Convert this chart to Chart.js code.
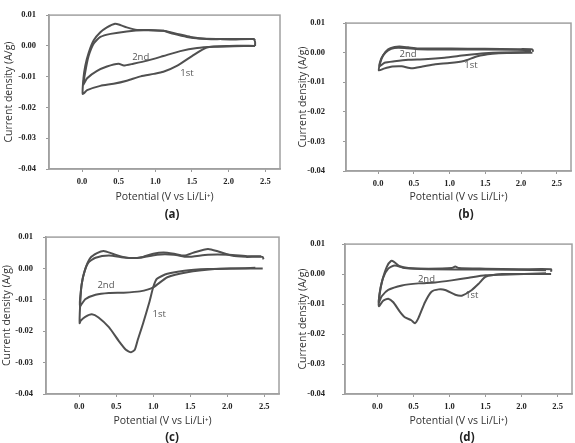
<!DOCTYPE html>
<html>
<head>
<meta charset="utf-8">
<script src="https://cdn.jsdelivr.net/npm/chart.js@4.4.1/dist/chart.umd.min.js"></script>
<style>
  body { margin: 0; background: #fff; width: 575px; height: 443px; position: relative; overflow: hidden; }
  .panel { position: absolute; }
  .tag { position: absolute; font: bold 11.5px "Open Sans", sans-serif; color: #222; transform: translate(-50%, -50%); }
</style>
</head>
<body>
<div class="panel" style="left:0;top:0;width:287px;height:222px"><canvas id="pa"></canvas></div>
<div class="panel" style="left:290px;top:0;width:285px;height:222px"><canvas id="pb"></canvas></div>
<div class="panel" style="left:0;top:222px;width:287px;height:221px"><canvas id="pc"></canvas></div>
<div class="panel" style="left:290px;top:222px;width:285px;height:221px"><canvas id="pd"></canvas></div>
<div class="tag" style="left:172px;top:213px">(a)</div>
<div class="tag" style="left:466px;top:213px">(b)</div>
<div class="tag" style="left:172px;top:436px">(c)</div>
<div class="tag" style="left:467px;top:436px">(d)</div>
<script>
// axis ticks
const X_TICKS = [0, 0.5, 1.0, 1.5, 2.0, 2.5];
const Y_TICKS = [-0.04, -0.03, -0.02, -0.01, 0, 0.01];
const CYCLE_NAMES = ["1st", "2nd"];

// (a) potential (V) / current density (A/g)
const a1V = [2.36, 2.0, 1.7, 1.5, 1.3, 1.11, 0.98, 0.8, 0.61, 0.43, 0.25, 0.07, 0.01,
  0.02, 0.045, 0.09, 0.16, 0.25, 0.34, 0.45, 0.52, 0.61, 0.75, 0.98, 1.11, 1.25, 1.43, 1.61, 1.89, 2.07, 2.34, 2.36, 2.36];
const a1I = [0.0, 0.0, -0.0005, -0.0033, -0.0064, -0.0084, -0.0091, -0.0099, -0.0113, -0.0123, -0.013, -0.0144, -0.0156,
  -0.0105, -0.0064, -0.0023, 0.0018, 0.0044, 0.006, 0.0072, 0.0068, 0.006, 0.0052, 0.0051, 0.0049, 0.0039, 0.0029, 0.0024, 0.0022, 0.0021, 0.0022, 0.0013, 0.0];
const a2V = [2.34, 2.07, 1.8, 1.57, 1.34, 1.11, 0.89, 0.7, 0.57, 0.5, 0.34, 0.2, 0.07, 0.02,
  0.045, 0.09, 0.16, 0.25, 0.39, 0.61, 0.84, 1.11, 1.3, 1.48, 1.7, 1.89, 2.34, 2.36];
const a2I = [0.0, -0.0001, -0.0003, -0.0007, -0.0017, -0.0033, -0.0048, -0.0058, -0.0064, -0.0058, -0.0067, -0.0082, -0.0105, -0.0125,
  -0.0084, -0.0033, 0.0008, 0.0029, 0.0039, 0.0047, 0.0051, 0.0049, 0.0039, 0.0029, 0.0022, 0.0022, 0.0022, 0.0018];
const aLabelV = [1.43, 0.8];
const aLabelI = [-0.0089, -0.0038];

// (b)
const b1V = [2.16, 1.8, 1.6, 1.39, 1.2, 1.0, 0.8, 0.62, 0.47, 0.33, 0.2, 0.08, 0.01,
  0.03, 0.07, 0.14, 0.23, 0.3, 0.42, 0.56, 1.02, 1.49, 1.95, 2.16, 2.17];
const b1I = [0.0, -0.0001, -0.0004, -0.0012, -0.0028, -0.0035, -0.0039, -0.0047, -0.0053, -0.0046, -0.0047, -0.0054, -0.006,
  -0.0034, -0.0009, 0.0011, 0.0019, 0.0021, 0.0018, 0.0014, 0.0014, 0.0013, 0.0012, 0.0011, 0.0003];
const b2V = [2.14, 1.72, 1.49, 1.21, 0.93, 0.65, 0.42, 0.23, 0.09, 0.02,
  0.03, 0.07, 0.14, 0.23, 0.37, 0.56, 1.02, 1.95, 2.14];
const b2I = [0.0002, 0.0001, -0.0002, -0.0009, -0.0017, -0.0022, -0.0024, -0.0029, -0.0034, -0.0046,
  -0.0029, -0.0009, 0.0008, 0.0016, 0.0016, 0.0012, 0.0011, 0.001, 0.0008];
const bLabelV = [1.3, 0.42];
const bLabelI = [-0.0044, -0.0006];

// (c)
const c1V = [2.48, 2.11, 1.74, 1.42, 1.19, 1.05, 1.0, 0.95, 0.86, 0.79, 0.75, 0.7, 0.63, 0.54, 0.4, 0.26, 0.17, 0.08, 0.02, 0.005,
  0.01, 0.03, 0.08, 0.15, 0.24, 0.33, 0.45, 0.59, 0.72, 0.86, 1.0, 1.14, 1.28, 1.42, 1.55, 1.74, 1.88, 2.06, 2.25, 2.48, 2.49];
const c1I = [0.0, 0.0, -0.0002, -0.0007, -0.0017, -0.0033, -0.0059, -0.0105, -0.0177, -0.0228, -0.0259, -0.0267, -0.0259, -0.0233, -0.0187, -0.0156, -0.0146, -0.0154, -0.0166, -0.0174,
  -0.0125, -0.0053, -0.0002, 0.0034, 0.0049, 0.0056, 0.0047, 0.0037, 0.0033, 0.0037, 0.0047, 0.0051, 0.0047, 0.0041, 0.0051, 0.0062, 0.0054, 0.0041, 0.0037, 0.0037, 0.0029];
const c2V = [2.38, 2.11, 1.83, 1.46, 1.19, 1.0, 0.82, 0.6, 0.4, 0.22, 0.08, 0.01,
  0.02, 0.055, 0.12, 0.22, 0.4, 0.63, 0.82, 1.05, 1.28, 1.46, 1.74, 2.02, 2.29, 2.46];
const c2I = [0.0002, 0.0, -0.0002, -0.0012, -0.0028, -0.006, -0.0073, -0.0077, -0.0078, -0.0084, -0.0098, -0.012,
  -0.0074, -0.0023, 0.0018, 0.0034, 0.0041, 0.0034, 0.0034, 0.0044, 0.0044, 0.0037, 0.0044, 0.0044, 0.0039, 0.0039];
const cLabelV = [1.08, 0.36];
const cLabelI = [-0.0146, -0.0053];

// (d)
const d1V = [2.41, 1.96, 1.73, 1.5, 1.41, 1.31, 1.17, 1.08, 0.94, 0.85, 0.75, 0.66, 0.57, 0.52, 0.47, 0.38, 0.31, 0.22, 0.15, 0.08, 0.02,
  0.03, 0.065, 0.13, 0.19, 0.23, 0.31, 0.43, 0.71, 1.03, 1.08, 1.13, 1.5, 1.96, 2.41, 2.41];
const d1I = [0.0, 0.0, 0.0, -0.0009, -0.0031, -0.0053, -0.0072, -0.0069, -0.0053, -0.0051, -0.0059, -0.0094, -0.0146, -0.0164, -0.0154, -0.0144, -0.0125, -0.0094, -0.0082, -0.0089, -0.0107,
  -0.0064, -0.0023, 0.0024, 0.0044, 0.0041, 0.0026, 0.002, 0.0018, 0.002, 0.0025, 0.002, 0.0018, 0.0016, 0.0016, 0.0008];
const d2V = [2.34, 1.73, 1.5, 1.27, 1.03, 0.8, 0.57, 0.34, 0.15, 0.06, 0.02,
  0.04, 0.08, 0.15, 0.24, 0.38, 0.71, 1.5, 2.34];
const d2I = [0.0003, -0.0002, -0.0004, -0.0012, -0.0021, -0.0028, -0.0031, -0.0038, -0.0053, -0.0074, -0.0094,
  -0.0053, -0.0012, 0.0018, 0.0029, 0.002, 0.0016, 0.0015, 0.0013];
const dLabelV = [1.31, 0.68];
const dLabelI = [-0.0072, -0.0017];

const toPoints = (vs, is) => vs.map((v, k) => ({ x: v, y: is[k] }));

// frame around the plot area, like the spreadsheet original
const plotFrame = {
  id: "plotFrame",
  beforeDatasetsDraw(chart) {
    const { ctx, chartArea: a } = chart;
    ctx.save();
    ctx.strokeStyle = "#a0a0a0";
    ctx.lineWidth = 1.5;
    ctx.strokeRect(a.left, a.top, a.right - a.left, a.bottom - a.top);
    ctx.restore();
  },
};

// "1st" / "2nd" annotations placed in data units
const cycleLabels = {
  id: "cycleLabels",
  afterDatasetsDraw(chart, args, opts) {
    const { ctx, scales: { x, y } } = chart;
    ctx.save();
    ctx.font = '9.5px "Open Sans", sans-serif';
    ctx.fillStyle = "#555";
    ctx.textAlign = "center";
    ctx.textBaseline = "middle";
    opts.v.forEach((v, k) => ctx.fillText(CYCLE_NAMES[k], x.getPixelForValue(v), y.getPixelForValue(opts.i[k])));
    ctx.restore();
  },
};

const tickFont = { family: "'Liberation Serif', serif", size: 8.5, weight: "bold" };
const titleFont = { family: "'Open Sans', sans-serif", size: 10.5 };

function makePanel(id, c1, c2, labV, labI, box) {
  const line = (data) => ({
    data,
    showLine: true,
    borderColor: "#505050",
    borderWidth: 2,
    pointRadius: 0,
    tension: 0.2,
  });

  new Chart(document.getElementById(id), {
    type: "scatter",
    data: { datasets: [line(c1), line(c2)] },
    options: {
      responsive: true,
      maintainAspectRatio: false,
      animation: false,
      layout: { padding: { top: box.padT, right: box.padR, bottom: box.padB, left: 0 } },
      scales: {
        x: {
          type: "linear",
          min: -0.45,
          max: 2.7,
          afterBuildTicks: (s) => { s.ticks = X_TICKS.map((v) => ({ value: v })); },
          afterFit: (s) => { s.height = box.xh; },
          ticks: { callback: (v) => Number(v).toFixed(1), font: tickFont, color: "#222", padding: 5, maxRotation: 0 },
          grid: { drawOnChartArea: false, tickLength: 3, color: "#999" },
          border: { color: "#a0a0a0", width: 1.5 },
          title: { display: true, text: "Potential (V vs Li/Li\u207A)", font: titleFont, color: "#333", padding: 0 },
        },
        y: {
          min: -0.04,
          max: 0.01,
          afterBuildTicks: (s) => { s.ticks = Y_TICKS.map((v) => ({ value: v })); },
          afterFit: (s) => { s.width = box.yw; },
          ticks: { callback: (v) => Number(v).toFixed(2), font: tickFont, color: "#222", padding: box.yPad },
          grid: { drawOnChartArea: false, tickLength: 3, color: "#999" },
          border: { color: "#a0a0a0", width: 1.5 },
          title: { display: true, text: "Current density (A/g)", font: titleFont, color: "#333", padding: { top: box.yTitlePad, bottom: 0 } },
        },
      },
      plugins: {
        legend: { display: false },
        tooltip: { enabled: false },
        cycleLabels: { v: labV, i: labI },
      },
    },
    plugins: [plotFrame, cycleLabels],
  });
}

makePanel("pa", toPoints(a1V, a1I), toPoints(a2V, a2I), aLabelV, aLabelI,
  { yw: 49, xh: 34, padT: 6, padR: 7, padB: 19, yPad: 10, yTitlePad: 3 });
makePanel("pb", toPoints(b1V, b1I), toPoints(b2V, b2I), bLabelV, bLabelI,
  { yw: 56, xh: 32.5, padT: 5, padR: 4, padB: 18.5, yPad: 18, yTitlePad: 7 });
makePanel("pc", toPoints(c1V, c1I), toPoints(c2V, c2I), cLabelV, cLabelI,
  { yw: 46, xh: 33, padT: 8, padR: 8, padB: 16, yPad: 10, yTitlePad: 1 });
makePanel("pd", toPoints(d1V, d1I), toPoints(d2V, d2I), dLabelV, dLabelI,
  { yw: 55, xh: 33, padT: 8, padR: 3, padB: 16, yPad: 17, yTitlePad: 7 });
</script>
</body>
</html>
